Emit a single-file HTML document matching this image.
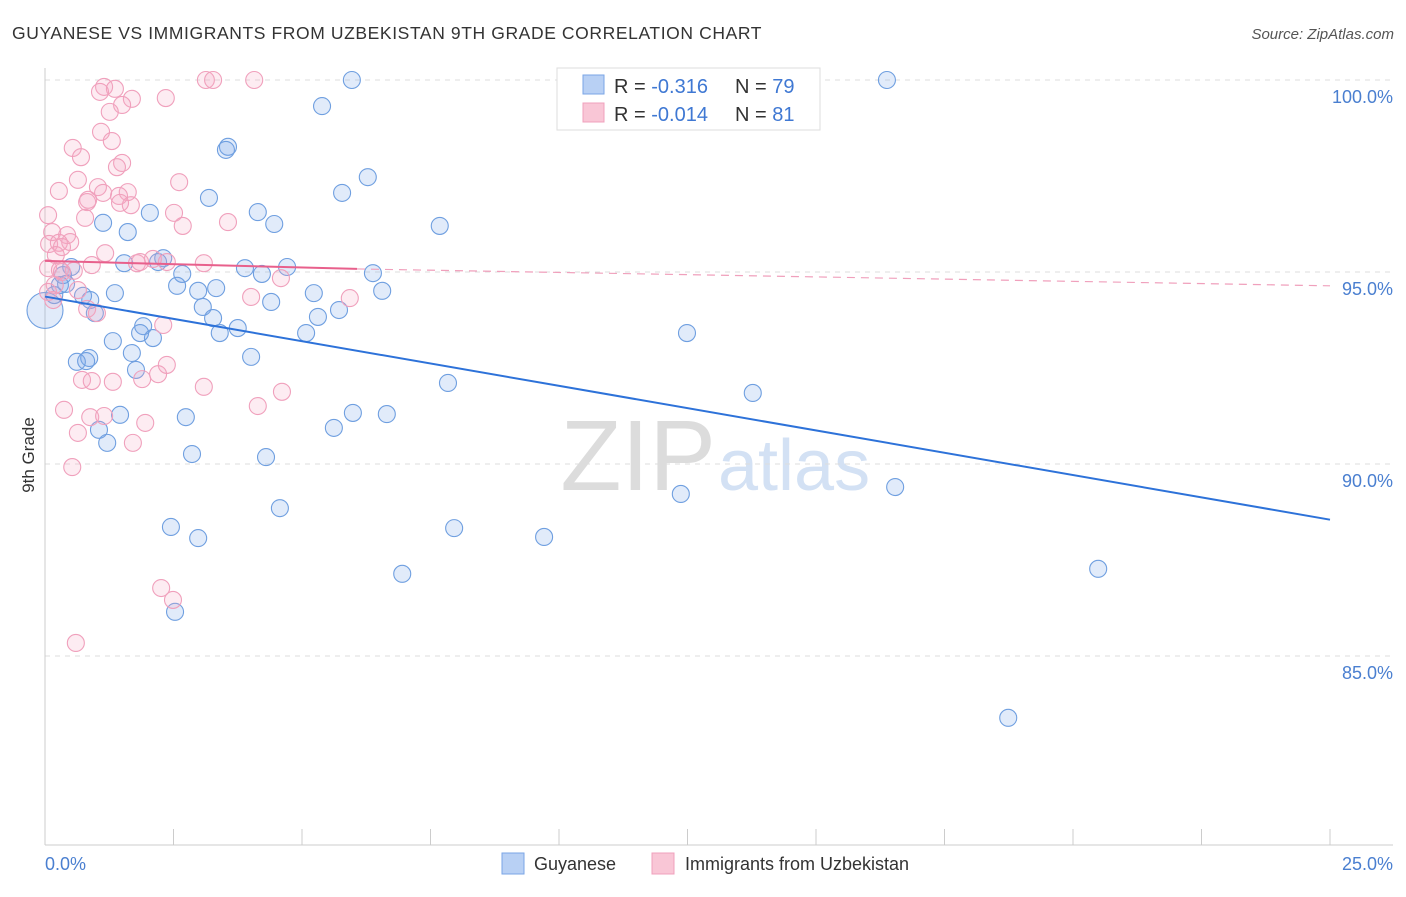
<!DOCTYPE html>
<html><head><meta charset="utf-8"><style>
body{margin:0;background:#fff;font-family:"Liberation Sans",sans-serif;}
svg text{font-family:"Liberation Sans",sans-serif;}
</style></head><body>
<svg id="chart" width="1406" height="892">
<text x="12" y="39" font-size="17.5" letter-spacing="0.6" fill="#333">GUYANESE VS IMMIGRANTS FROM UZBEKISTAN 9TH GRADE CORRELATION CHART</text>
<text x="1394" y="39" font-size="15" fill="#555" font-style="italic" text-anchor="end">Source: ZipAtlas.com</text>
<text x="716" y="490" font-size="100" fill="#dcdcdc" text-anchor="end" font-family="Liberation Serif">ZIP</text>
<text x="718" y="490" font-size="72" fill="#d3e1f4">atlas</text>
<g id="grid"></g><g id="axes"></g><g id="pts"></g><g id="trend"></g>
<text transform="translate(34,455) rotate(-90)" font-size="17" fill="#333" text-anchor="middle">9th Grade</text>
<text x="45" y="870" font-size="18" fill="#4a7fd0">0.0%</text>
<text x="1393" y="870" font-size="18" fill="#4a7fd0" text-anchor="end">25.0%</text>
<g>
<rect x="557" y="68" width="263" height="62" fill="#fff" stroke="#ddd"/>
<rect x="583" y="75" width="21" height="19" fill="#b8d0f4" stroke="#7aa5e6"/>
<rect x="583" y="103" width="21" height="19" fill="#f9c6d6" stroke="#f0a0bc"/>
<text x="614" y="93" font-size="20" fill="#333">R = <tspan fill="#3f78d3">-0.316</tspan><tspan x="735">N = </tspan><tspan fill="#3f78d3">79</tspan></text>
<text x="614" y="121" font-size="20" fill="#333">R = <tspan fill="#3f78d3">-0.014</tspan><tspan x="735">N = </tspan><tspan fill="#3f78d3"> 81</tspan></text>
</g>
<g>
<rect x="502" y="853" width="22" height="21" fill="#b8d0f4" stroke="#7aa5e6"/>
<text x="534" y="870" font-size="18" fill="#333">Guyanese</text>
<rect x="652" y="853" width="22" height="21" fill="#f9c6d6" stroke="#f0a0bc"/>
<text x="685" y="870" font-size="18" fill="#333">Immigrants from Uzbekistan</text>
</g>
</svg>
<script>
const yTicks=[100,95,90,85];
const yTickLabels=["100.0%","95.0%","90.0%","85.0%"];
const xTicks=[0,2.5,5,7.5,10,12.5,15,17.5,20,22.5,25];
const blueX=[0,5.97,16.38,5.39,3.56,3.52,6.28,5.78,3.19,2.04,4.14,4.46,7.68,1.13,1.61,2.30,2.20,1.54,3.89,4.71,6.38,2.67,4.22,0.51,0.35,2.57,3.33,2.98,6.56,0.74,1.36,5.23,4.40,0.18,3.07,5.72,3.27,5.31,0.97,3.75,1.91,3.40,5.08,2.10,1.32,12.49,1.69,4.01,0.86,0.62,0.80,1.77,7.84,13.77,1.46,2.74,5.99,6.65,1.05,5.62,1.21,2.86,4.30,12.37,16.54,4.57,2.45,7.96,2.98,9.71,6.95,20.49,2.53,18.74,0.41,0.29,0.88,1.85];
const blueY=[94.0,100,100,99.32,98.26,98.18,97.47,97.06,96.93,96.54,96.56,96.25,96.20,96.28,96.04,95.36,95.26,95.23,95.10,95.13,94.97,94.95,94.95,95.13,94.92,94.64,94.58,94.51,94.51,94.38,94.45,94.45,94.22,94.40,94.09,94.01,93.80,93.83,93.93,93.54,93.59,93.41,93.41,93.28,93.20,93.41,92.89,92.79,92.76,92.66,92.68,92.45,92.11,91.85,91.28,91.22,91.33,91.30,90.89,90.94,90.55,90.26,90.18,89.22,89.40,88.85,88.36,88.33,88.07,88.10,87.14,87.27,86.15,83.39,94.69,94.66,94.27,93.41];
const pinkX=[1.15,1.36,1.07,1.69,2.35,3.13,3.27,4.07,1.50,1.26,1.09,1.30,0.54,0.70,1.50,1.40,0.64,2.61,0.27,1.03,1.61,1.44,1.13,0.84,1.67,0.82,1.46,0.06,2.51,0.78,3.56,2.68,0.14,0.43,0.08,0.49,0.27,0.33,1.17,0.21,2.10,2.37,1.79,0.91,3.09,0.06,0.29,0.56,0.33,4.59,0.19,0.64,0.06,4.01,5.93,0.82,1.01,2.30,2.37,0.72,0.91,1.32,1.89,2.20,3.09,4.61,4.14,0.37,0.88,1.15,1.95,0.64,1.71,0.53,2.26,2.49,0.60,0.16,1.85];
const pinkY=[99.82,99.77,99.69,99.51,99.53,100,100,100,99.35,99.17,98.65,98.41,98.23,97.99,97.84,97.73,97.40,97.34,97.11,97.21,97.08,96.98,97.06,96.88,96.74,96.82,96.80,96.48,96.54,96.41,96.30,96.20,96.04,95.96,95.73,95.78,95.76,95.65,95.49,95.44,95.34,95.26,95.23,95.18,95.23,95.10,95.05,95.03,95.00,94.84,94.66,94.53,94.48,94.35,94.32,94.04,93.93,93.62,92.58,92.19,92.16,92.14,92.21,92.34,92.01,91.88,91.51,91.41,91.22,91.25,91.07,90.81,90.55,89.92,86.77,86.46,85.34,94.27,95.26];
const blueTrendX=[0,25];
const blueTrendY=[94.36,88.55];
const pinkTrendX=[0,6.07,25];
const pinkTrendY=[95.29,95.08,94.64];

const NS="http://www.w3.org/2000/svg";
function sx(v){return 45+v/25*1285;}
function sy(v){return 80+(100-v)/5*192;}
function mk(tag,attrs,parent){const e=document.createElementNS(NS,tag);for(const k in attrs)e.setAttribute(k,attrs[k]);document.getElementById(parent).appendChild(e);return e;}

yTicks.forEach((t,i)=>{
  const l=mk('line',{x1:45,x2:1393,y1:sy(t),y2:sy(t),stroke:'#ddd','stroke-dasharray':'5,5'},'grid');
  
  
  const tx=mk('text',{x:1393,y:sy(t)+23,'font-size':18,fill:'#4a7fd0','text-anchor':'end'},'grid');
  tx.textContent=yTickLabels[i];
  
  
});
const ya=mk('line',{x1:45,x2:45,y1:68,y2:845,stroke:'#ccc'},'axes');


const xa=mk('line',{x1:45,x2:1393,y1:845,y2:845,stroke:'#ccc'},'axes');


xTicks.forEach(t=>{
  const l=mk('line',{x1:sx(t),x2:sx(t),y1:829,y2:845,stroke:'#ccc'},'axes');
  
  
});
blueX.forEach((v,i)=>{
  const c=mk('circle',{cx:sx(v),cy:sy(blueY[i]),r:i===0?18:8.5,fill:'rgba(120,165,230,0.22)',stroke:'#6f9fe0','stroke-width':1.1},'pts');
  
  
});
pinkX.forEach((v,i)=>{
  const c=mk('circle',{cx:sx(v),cy:sy(pinkY[i]),r:8.5,fill:'rgba(245,170,195,0.22)',stroke:'#f0a0bc','stroke-width':1.1},'pts');
  
  
});
const bt=mk('line',{x1:sx(blueTrendX[0]),y1:sy(blueTrendY[0]),x2:sx(blueTrendX[1]),y2:sy(blueTrendY[1]),stroke:'#2d72d9','stroke-width':2},'trend');


const pt=mk('line',{x1:sx(pinkTrendX[0]),y1:sy(pinkTrendY[0]),x2:sx(pinkTrendX[1]),y2:sy(pinkTrendY[1]),stroke:'#e8608c','stroke-width':2},'trend');


const pd=mk('line',{x1:sx(pinkTrendX[1]),y1:sy(pinkTrendY[1]),x2:sx(pinkTrendX[2]),y2:sy(pinkTrendY[2]),stroke:'#f0a0bc','stroke-width':1.2,'stroke-dasharray':'8,6'},'trend');


</script>
</body></html>
